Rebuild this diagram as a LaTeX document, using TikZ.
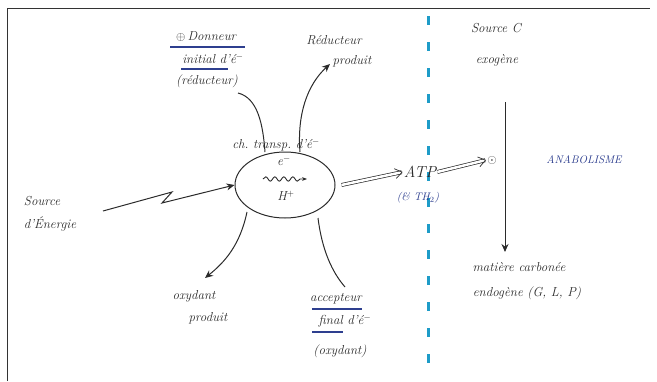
\documentclass[tikz,border=0pt]{standalone}
\usepackage{fontspec}
\setmainfont{Latin Modern Roman}
\usetikzlibrary{arrows.meta,decorations.pathmorphing,shapes.geometric}
\definecolor{ink}{HTML}{2B2B2B}
\definecolor{blueink}{HTML}{2E3F8F}
\definecolor{dashcyan}{HTML}{1E9CC8}
\tikzset{
  hand/.style={font=\itshape\fontsize{13}{15}\selectfont, text=ink, inner sep=1pt},
  bluehand/.style={hand, text=blueink},
  underl/.style={blueink, line width=1.2pt},
  flow/.style={draw=ink, line width=1pt, -{Stealth[length=8pt,width=7pt]}},
  plain/.style={draw=ink, line width=1pt},
  twin/.style={draw=ink, line width=0.7pt, double distance=2.5pt, -{Straight Barb[length=7pt,width=10pt]}},
}
\begin{document}
\begin{tikzpicture}[x=1pt,y=-1pt]
\useasboundingbox (0,0) rectangle (657,381);
% frame
\draw[line width=1pt, black!80] (7,381) -- (7,8) -- (650,8);

% membrane
\draw[dashcyan, line width=3pt, dash pattern=on 9pt off 17pt] (428,16) -- (428,378);

% electron transport chain
\node[draw=ink, line width=1pt, ellipse, minimum width=100pt, minimum height=66pt] (chain) at (285,185) {};
\node[hand] (chainlbl) at (276,145) {ch.~transp.~d'é$^-$};
\node[hand] (elec) at (284,161) {e$^-$};
\node[hand] (proton) at (286,196) {H$^+$};
\coordinate (wavyA) at (263,179);
\coordinate (wavyB) at (307,179);
\draw[ink, line width=0.9pt, decorate, decoration={snake, amplitude=2.2pt, segment length=9pt, post length=4pt}, -{Stealth[length=5pt]}] (wavyA) -- (wavyB);

% donor
\node[hand] (donor1) at (206,37) {$\oplus$\,Donneur};
\node[hand] (donor2) at (213,59) {initial d'é$^-$};
\node[hand] (donor3) at (207,81) {(réducteur)};
\draw[underl] (170,47) -- (245,47) (181,69) -- (228,69);
\draw[plain] (238,93) .. controls (258,98) and (263,125) .. (265,152);

% reduced product
\node[hand] (redprod1) at (334,40) {Réducteur};
\node[hand] (redprod2) at (352,61) {produit};
\draw[flow] (300,152) .. controls (297,115) and (307,85) .. (330,64);

% energy source
\node[hand] (energy1) at (42,201) {Source};
\node[hand] (energy2) at (50,224) {d'Énergie};
\coordinate (boltA) at (103,211);
\coordinate (boltB) at (172,192);
\coordinate (boltC) at (162,203);
\draw[flow] (boltA) -- (boltB) -- (boltC) -- (chain.west);

% oxidised product
\node[hand] (oxprod1) at (194,296) {oxydant};
\node[hand] (oxprod2) at (208,318) {produit};
\draw[flow] (247,212) .. controls (240,245) and (225,262) .. (205,278);

% final acceptor
\node[hand] (acc1) at (336,299) {accepteur};
\node[hand] (acc2) at (345,321) {final d'é$^-$};
\node[hand] (acc3) at (340,351) {(oxydant)};
\draw[underl] (312,309) -- (362,309) (312,332) -- (343,332);
\draw[plain] (318,218) .. controls (322,250) and (332,272) .. (345,287);

% ATP
\node[hand, font=\itshape\fontsize{16}{18}\selectfont] (atp) at (420,172) {ATP};
\node[bluehand, font=\itshape\fontsize{11}{13}\selectfont] (th) at (418,198) {(\& TH$_2$)};
\draw[twin] (chain.east) ++(6,0) -- (atp.west);
\node[hand] (plus) at (492,160) {$\odot$};
\draw[twin] (atp.east) -- (plus.west);

% carbon source
\node[hand] (csrc) at (496,28) {Source C};
\node[hand] (exo) at (497,60) {exogène};
\node[hand] (matter) at (519,267) {matière carbonée};
\node[hand] (endo) at (527,293) {endogène (G, L, P)};
\coordinate (downtop) at (505,102);
\draw[flow] (downtop) -- (505,252);

\node[bluehand, font=\itshape\fontsize{11}{13}\selectfont] (anab) at (584,160) {ANABOLISME};
\end{tikzpicture}
\end{document}
